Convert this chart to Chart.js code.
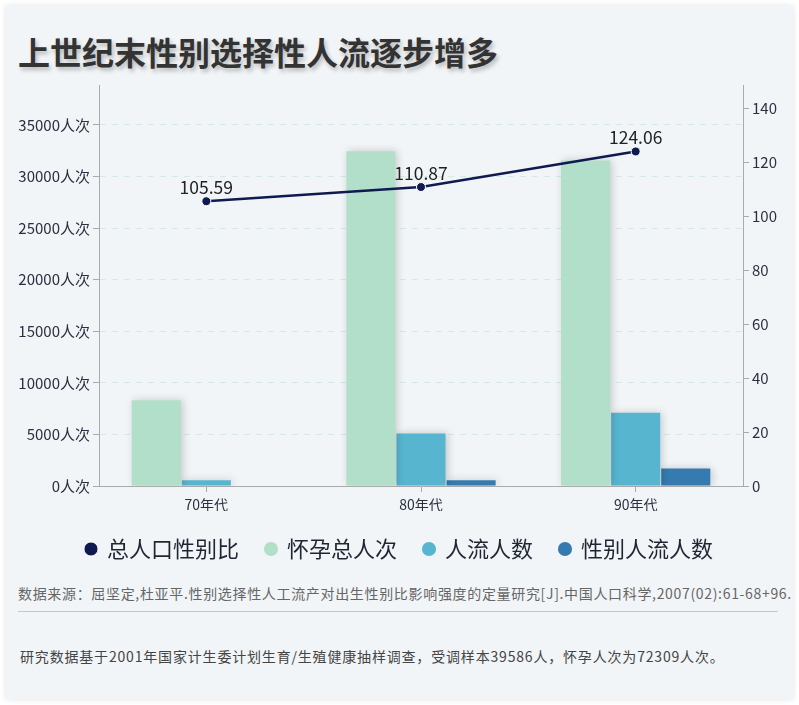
<!DOCTYPE html>
<html>
<head>
<meta charset="utf-8">
<script src="https://cdn.jsdelivr.net/npm/chart.js@4"></script>
<style>
  body { margin: 0; background: #fff; font-family: "Noto Sans CJK SC", sans-serif; }
  .card { position: absolute; left: 6px; top: 6px; width: 787px; height: 693px; background: #f2f5f7; box-shadow: 0 0 6px rgba(0,0,0,0.12); }
  .title { position: absolute; left: 18px; top: 34px; margin: 0; font-size: 32px; line-height: 34px; font-weight: bold; color: #333; text-shadow: 2px 3px 4px rgba(0,0,0,0.25); white-space: nowrap; }
  .chartbox { position: absolute; left: 0; top: 73px; width: 799px; height: 497px; }
  .source { position: absolute; left: 18px; top: 584px; font-size: 14px; line-height: 18px; letter-spacing: 0.67px; color: #666; white-space: nowrap; }
  .rule { position: absolute; left: 18px; top: 611px; width: 760px; height: 1px; background: #c4c8cc; }
  .note { position: absolute; left: 20px; top: 647px; font-size: 14px; line-height: 18px; letter-spacing: 0.82px; color: #444; white-space: nowrap; }
</style>
</head>
<body>
<div class="card"></div>
<h1 class="title">上世纪末性别选择性人流逐步增多</h1>
<div class="chartbox"><canvas id="chart"></canvas></div>
<div class="source">数据来源：屈坚定,杜亚平.性别选择性人工流产对出生性别比影响强度的定量研究[J].中国人口科学,2007(02):61-68+96.</div>
<div class="rule"></div>
<div class="note">研究数据基于2001年国家计生委计划生育/生殖健康抽样调查，受调样本39586人，怀孕人次为72309人次。</div>
<script>
// 年代
const decades = ['70年代', '80年代', '90年代'];
// 总人口性别比 (右轴)
const sexRatio = [105.59, 110.87, 124.06];
// 怀孕总人次 / 人流人数 / 性别人流人数 (左轴)
const pregnancies = [8300, 32450, 31560];
const abortions = [550, 5100, 7100];
const sexAbortions = [null, 550, 1700];
// 刻度
const leftTicks = [0, 5000, 10000, 15000, 20000, 25000, 30000, 35000];
const rightTicks = [0, 20, 40, 60, 80, 100, 120, 140];

const tickFont = { family: '"Noto Sans CJK SC", sans-serif', size: 15 };

// 折线上的数值标签
const pointLabels = {
    id: 'pointLabels',
    afterDatasetsDraw(chart) {
        const ctx = chart.ctx;
        const meta = chart.getDatasetMeta(0);
        ctx.save();
        ctx.font = '17.5px "Noto Sans CJK SC", sans-serif';
        ctx.fillStyle = '#222';
        ctx.textAlign = 'center';
        ctx.textBaseline = 'bottom';
        meta.data.forEach((pt, i) => {
            ctx.fillText(sexRatio[i].toFixed(2), pt.x, pt.y - 5);
        });
        ctx.restore();
    }
};

// 柱子阴影
const barShadow = {
    id: 'barShadow',
    beforeDatasetDraw(chart, args) {
        if (args.meta.type !== 'bar') return;
        const ctx = chart.ctx;
        ctx.save();
        ctx.shadowColor = 'rgba(0,0,0,0.18)';
        ctx.shadowBlur = 8;
        ctx.shadowOffsetX = 2;
        ctx.shadowOffsetY = 0;
    },
    afterDatasetDraw(chart, args) {
        if (args.meta.type !== 'bar') return;
        chart.ctx.restore();
    }
};

new Chart(document.getElementById('chart').getContext('2d'), {
    data: {
        labels: decades,
        datasets: [{
            type: 'line',
            label: '总人口性别比',
            data: sexRatio,
            yAxisID: 'y1',
            borderColor: '#0f1a4f',
            backgroundColor: '#0f1a4f',
            borderWidth: 2.5,
            pointRadius: 4.5,
            pointBorderColor: '#fff',
            pointBorderWidth: 1,
            pointBackgroundColor: '#0f1a4f',
            tension: 0
        }, {
            type: 'bar',
            label: '怀孕总人次',
            data: pregnancies,
            yAxisID: 'y',
            backgroundColor: '#b2dfc9'
        }, {
            type: 'bar',
            label: '人流人数',
            data: abortions,
            yAxisID: 'y',
            backgroundColor: '#57b5d0'
        }, {
            type: 'bar',
            label: '性别人流人数',
            data: sexAbortions,
            yAxisID: 'y',
            backgroundColor: '#357bb0'
        }]
    },
    options: {
        responsive: true,
        maintainAspectRatio: false,
        animation: false,
        datasets: { bar: { categoryPercentage: 0.7, barPercentage: 0.98 } },
        layout: { padding: { top: 10, left: 0, right: 0, bottom: 0 } },
        plugins: {
            tooltip: { enabled: false },
            legend: {
                position: 'bottom',
                labels: {
                    usePointStyle: true,
                    pointStyle: 'circle',
                    boxWidth: 10,
                    boxHeight: 10,
                    padding: 27,
                    color: '#1f2533',
                    font: { family: '"Noto Sans CJK SC", sans-serif', size: 22 }
                }
            }
        },
        scales: {
            x: {
                grid: { display: true, drawOnChartArea: false, offset: false, tickLength: 6, tickColor: '#aaa' },
                border: { color: '#aaa', width: 1 },
                ticks: { color: '#2b3040', font: { family: '"Noto Sans CJK SC", sans-serif', size: 14 }, padding: 4 },
                afterFit(scale) { scale.height = 25; }
            },
            y: {
                position: 'left',
                min: 0,
                max: 38870,
                ticks: {
                    autoSkip: false,
                    color: '#2b3040',
                    font: tickFont,
                    padding: 3,
                    callback: v => v + '人次'
                },
                afterBuildTicks(scale) { scale.ticks = leftTicks.map(v => ({ value: v })); },
                afterFit(scale) { scale.width = 99; },
                grid: {
                    tickLength: 6,
                    tickColor: '#aaa',
                    color: ctx => (ctx.tick && ctx.tick.value === 0 ? 'rgba(0,0,0,0)' : '#d6e8e8')
                },
                border: { color: '#aaa', width: 1, dash: [6, 6] }
            },
            y1: {
                position: 'right',
                min: 0,
                max: 148.7,
                ticks: { autoSkip: false, color: '#2b3040', font: tickFont, padding: 3 },
                afterBuildTicks(scale) { scale.ticks = rightTicks.map(v => ({ value: v })); },
                afterFit(scale) { scale.width = 56; },
                grid: { drawOnChartArea: false, tickLength: 6, tickColor: '#aaa' },
                border: { color: '#aaa', width: 1 }
            }
        }
    },
    plugins: [barShadow, pointLabels]
});
</script>
</body>
</html>
